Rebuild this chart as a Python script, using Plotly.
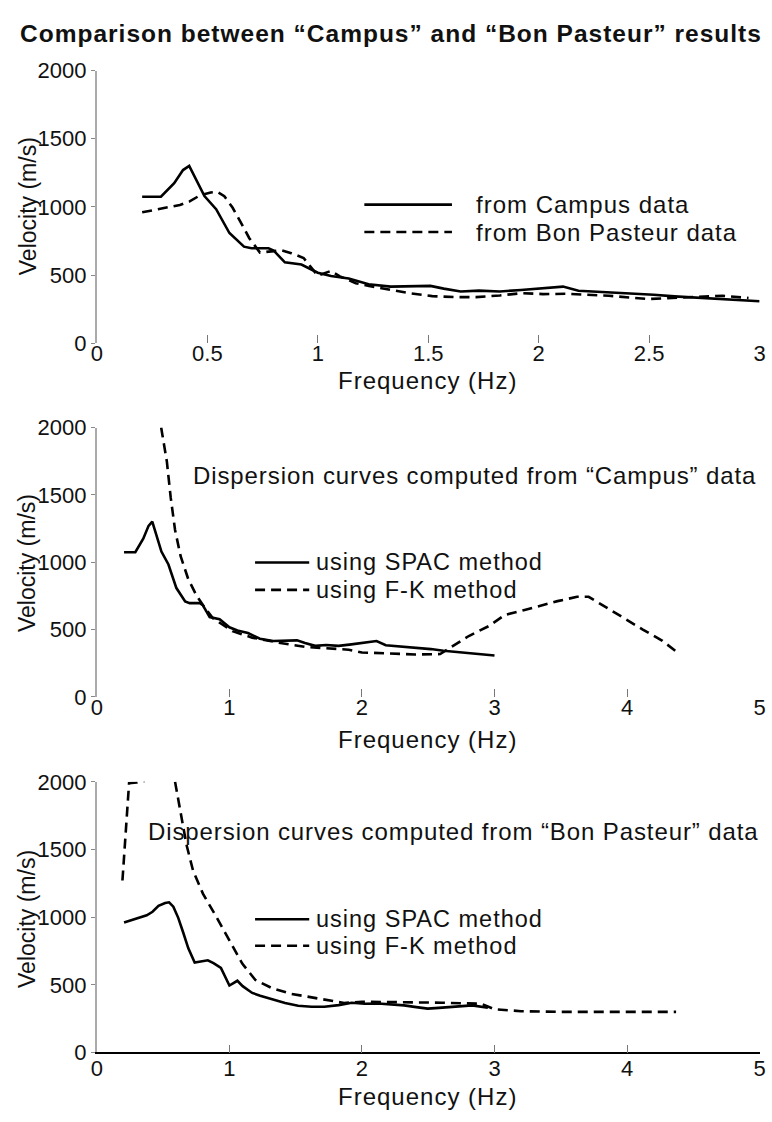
import plotly.graph_objects as go

W, H = 772, 1122

# ---------------- data ----------------
# SPAC dispersion curve from "Campus" data (panel 1 solid, panel 2 solid)
campus_f = [0.205, 0.29, 0.35, 0.39, 0.418, 0.45, 0.487, 0.54, 0.60, 0.666, 0.70, 0.777, 0.80,
            0.851, 0.926, 1.0, 1.06, 1.14, 1.23, 1.33, 1.42, 1.51, 1.57, 1.647, 1.73, 1.824,
            1.92, 2.02, 2.11, 2.18, 2.30, 2.42, 2.52, 2.615, 2.71, 2.81, 2.90, 3.0]
campus_v = [1074, 1074, 1174, 1270, 1301, 1198, 1079, 983, 808, 708, 696, 696, 680,
            593, 577, 517, 493, 474, 432, 415, 418, 420, 400, 379, 385, 379,
            390, 403, 415, 384, 375, 367, 355, 343, 335, 324, 318, 307]

# SPAC dispersion curve from "Bon Pasteur" data (panel 1 dashed, panel 3 solid)
bp_f = [0.205, 0.25, 0.287, 0.33, 0.376, 0.42, 0.465, 0.515, 0.545, 0.577, 0.614, 0.652, 0.69,
        0.738, 0.78, 0.837, 0.88, 0.936, 1.0, 1.06, 1.1, 1.172, 1.232, 1.32, 1.42, 1.518,
        1.62, 1.716, 1.824, 1.923, 2.02, 2.121, 2.22, 2.318, 2.41, 2.496, 2.58, 2.674,
        2.75, 2.832, 2.95]
bp_v = [960, 975, 985, 1000, 1014, 1040, 1083, 1105, 1110, 1078, 995, 885, 770,
        665, 672, 681, 660, 625, 495, 530, 490, 440, 420, 392, 365, 345,
        338, 338, 350, 367, 360, 362, 355, 348, 335, 324, 330, 338,
        343, 348, 331]

# F-K dispersion curve from "Campus" data (panel 2 dashed)
fk_campus_f = [0.485, 0.528, 0.557, 0.59, 0.632, 0.689, 0.751, 0.8, 0.874, 1.023, 1.172, 1.37,
               1.568, 1.766, 1.9, 2.0, 2.2, 2.4, 2.59, 2.67, 2.806, 2.955, 3.079, 3.227,
               3.351, 3.475, 3.623, 3.71, 3.846, 3.995, 4.119, 4.267, 4.39]
fk_campus_v = [2000, 1748, 1481, 1239, 1045, 876, 754, 682, 585, 488, 440, 403,
               372, 362, 350, 330, 320, 315, 318, 367, 452, 525, 609, 645,
               677, 711, 743, 743, 663, 573, 500, 416, 323]

# F-K dispersion curve from "Bon Pasteur" data (panel 3 dashed)
fk_bp_f = [0.193, 0.218, 0.23, 0.243, 0.3, 0.354, 0.42, 0.5, 0.59, 0.627, 0.676, 0.726, 0.8,
           0.899, 0.998, 1.097, 1.196, 1.32, 1.469, 1.667, 1.865, 2.0, 2.3, 2.6, 2.9, 3.0,
           3.2, 3.5, 4.0, 4.37]
fk_bp_v = [1271, 1656, 1873, 1990, 1995, 2005, 2150, 2200, 2000, 1801, 1536, 1343, 1174,
           1006, 837, 657, 536, 476, 433, 399, 366, 375, 372, 368, 360, 320,
           305, 300, 300, 300]

x1_ticks = [0, 0.5, 1, 1.5, 2, 2.5, 3]
x1_labels = ["0", "0.5", "1", "1.5", "2", "2.5", "3"]
x2_ticks = [0, 1, 2, 3, 4, 5]
x2_labels = ["0", "1", "2", "3", "4", "5"]
y_ticks = [0, 500, 1000, 1500, 2000]
y_labels = ["0", "500", "1000", "1500", "2000"]

title_text = "Comparison between “Campus” and “Bon Pasteur” results"
ann2_text = "Dispersion curves computed from “Campus” data"
ann3_text = "Dispersion curves computed from “Bon Pasteur” data"
leg1 = ["from Campus data", "from Bon Pasteur data"]
leg23 = ["using SPAC method", "using F-K method"]

# ---------------- layout helpers ----------------
FONT = "Liberation Sans, Arial, Helvetica, sans-serif"
def px(x):
    return x / W
def py(y):
    return 1 - y / H
def wide(t, sp=1):
    return f'<span style="letter-spacing:{sp}px">{t}</span>'

x_left, x_right = 92.3, 765.5
panels = [  # (y of 0, y of 2000) in pixels
    (338.7, 59.9),
    (700.5, 425.0),
    (1064.2, 787.4),
]

DASH = "10px,6px"
LW = 2.6
TXT = "#111"

fig = go.Figure()

def add(f, v, dash, i):
    fig.add_trace(go.Scatter(
        x=f, y=v, mode="lines",
        line=dict(color="black", width=LW, dash=dash),
        xaxis="x" if i == 1 else f"x{i}", yaxis="y" if i == 1 else f"y{i}",
        showlegend=False, hoverinfo="skip"))

add(campus_f, campus_v, "solid", 1)
add(bp_f, bp_v, DASH, 1)
add(campus_f, campus_v, "solid", 2)
add(fk_campus_f, fk_campus_v, DASH, 2)
add(bp_f, bp_v, "solid", 3)
add(fk_bp_f, fk_bp_v, DASH, 3)

layout = dict(
    width=W, height=H,
    margin=dict(l=0, r=0, t=0, b=0),
    paper_bgcolor="white", plot_bgcolor="white",
    font=dict(family=FONT, color=TXT),
    showlegend=False,
)

for i, (y0, y2000) in enumerate(panels, start=1):
    xs = "" if i == 1 else str(i)
    xticks = x1_ticks if i == 1 else x2_ticks
    xlabels = x1_labels if i == 1 else x2_labels
    layout["xaxis" + xs] = dict(
        domain=[px(x_left), px(x_right)],
        range=[0, 3 if i == 1 else 5],
        anchor="y" + xs,
        tickmode="array", tickvals=xticks, ticktext=xlabels,
        ticks="inside", ticklen=8, tickwidth=1.2, tickcolor="#777",
        ticklabelstandoff=-5,
        showgrid=False, zeroline=False,
        showline=(i == 3), linecolor="black", linewidth=1.5,
        tickfont=dict(size=22, family=FONT, color=TXT),
        fixedrange=True,
    )
    layout["yaxis" + xs] = dict(
        domain=[py(y0), py(y2000)],
        range=[0, 2000],
        anchor="x" + xs,
        tickmode="array", tickvals=y_ticks, ticktext=y_labels,
        ticks="outside", ticklen=4, tickwidth=1.2, tickcolor="#888",
        showgrid=False, zeroline=False,
        showline=True, linecolor="#aaaaaa", linewidth=2,
        tickfont=dict(size=22, family=FONT, color=TXT),
        fixedrange=True,
    )

fig.update_layout(**layout)

annotations = []
shapes = []

# title
annotations.append(dict(text="<b>" + wide(title_text) + "</b>", x=px(391), y=py(22),
                        xref="paper", yref="paper", showarrow=False,
                        xanchor="center", yanchor="middle",
                        font=dict(size=24.5, family=FONT, color=TXT)))

# axis titles
freq_y = [377, 744, 1109]
vel_y = [199, 564, 928]
for fy, vy in zip(freq_y, vel_y):
    annotations.append(dict(text=wide("Frequency (Hz)"), x=px(428), y=py(fy), xref="paper", yref="paper",
                            showarrow=False, xanchor="center", yanchor="middle",
                            font=dict(size=24, family=FONT, color=TXT)))
    annotations.append(dict(text="Velocity (m/s)", x=px(22), y=py(vy), xref="paper", yref="paper",
                            showarrow=False, xanchor="center", yanchor="middle", textangle=-90,
                            font=dict(size=23, family=FONT, color=TXT)))

# panel annotations
annotations.append(dict(text=wide(ann2_text, 0.9), x=px(188), y=py(474), xref="paper", yref="paper",
                        showarrow=False, xanchor="left", yanchor="middle",
                        font=dict(size=24, family=FONT, color=TXT)))
annotations.append(dict(text=wide(ann3_text, 0.9), x=px(142), y=py(838), xref="paper", yref="paper",
                        showarrow=False, xanchor="left", yanchor="middle",
                        font=dict(size=24, family=FONT, color=TXT)))

# legends: line samples + one two-line label block (line pitch = 1.3 * base size)
def legend(xa, xb, xt, ys, labels, size):
    for k, yy in enumerate(ys):
        shapes.append(dict(type="line", xref="paper", yref="paper",
                           x0=px(xa), x1=px(xb), y0=py(yy), y1=py(yy),
                           line=dict(color="black", width=LW, dash="solid" if k == 0 else DASH)))
    pitch = ys[1] - ys[0]
    base = pitch / 1.3
    txt = "<br>".join(f'<span style="font-size:{size}px;letter-spacing:1px">{lab}</span>'
                      for lab in labels)
    annotations.append(dict(text=txt, x=px(xt), y=py((ys[0] + ys[1]) / 2),
                            xref="paper", yref="paper", showarrow=False,
                            xanchor="left", yanchor="middle", align="left",
                            font=dict(size=base, family=FONT, color=TXT)))

legend(364, 453, 475, [197, 225], leg1, 24)
legend(253, 308, 313, [563, 591], leg23, 23.5)
legend(253, 308, 313, [928, 955], leg23, 23.5)

fig.update_layout(annotations=annotations, shapes=shapes)

fig.write_html("out.html")
